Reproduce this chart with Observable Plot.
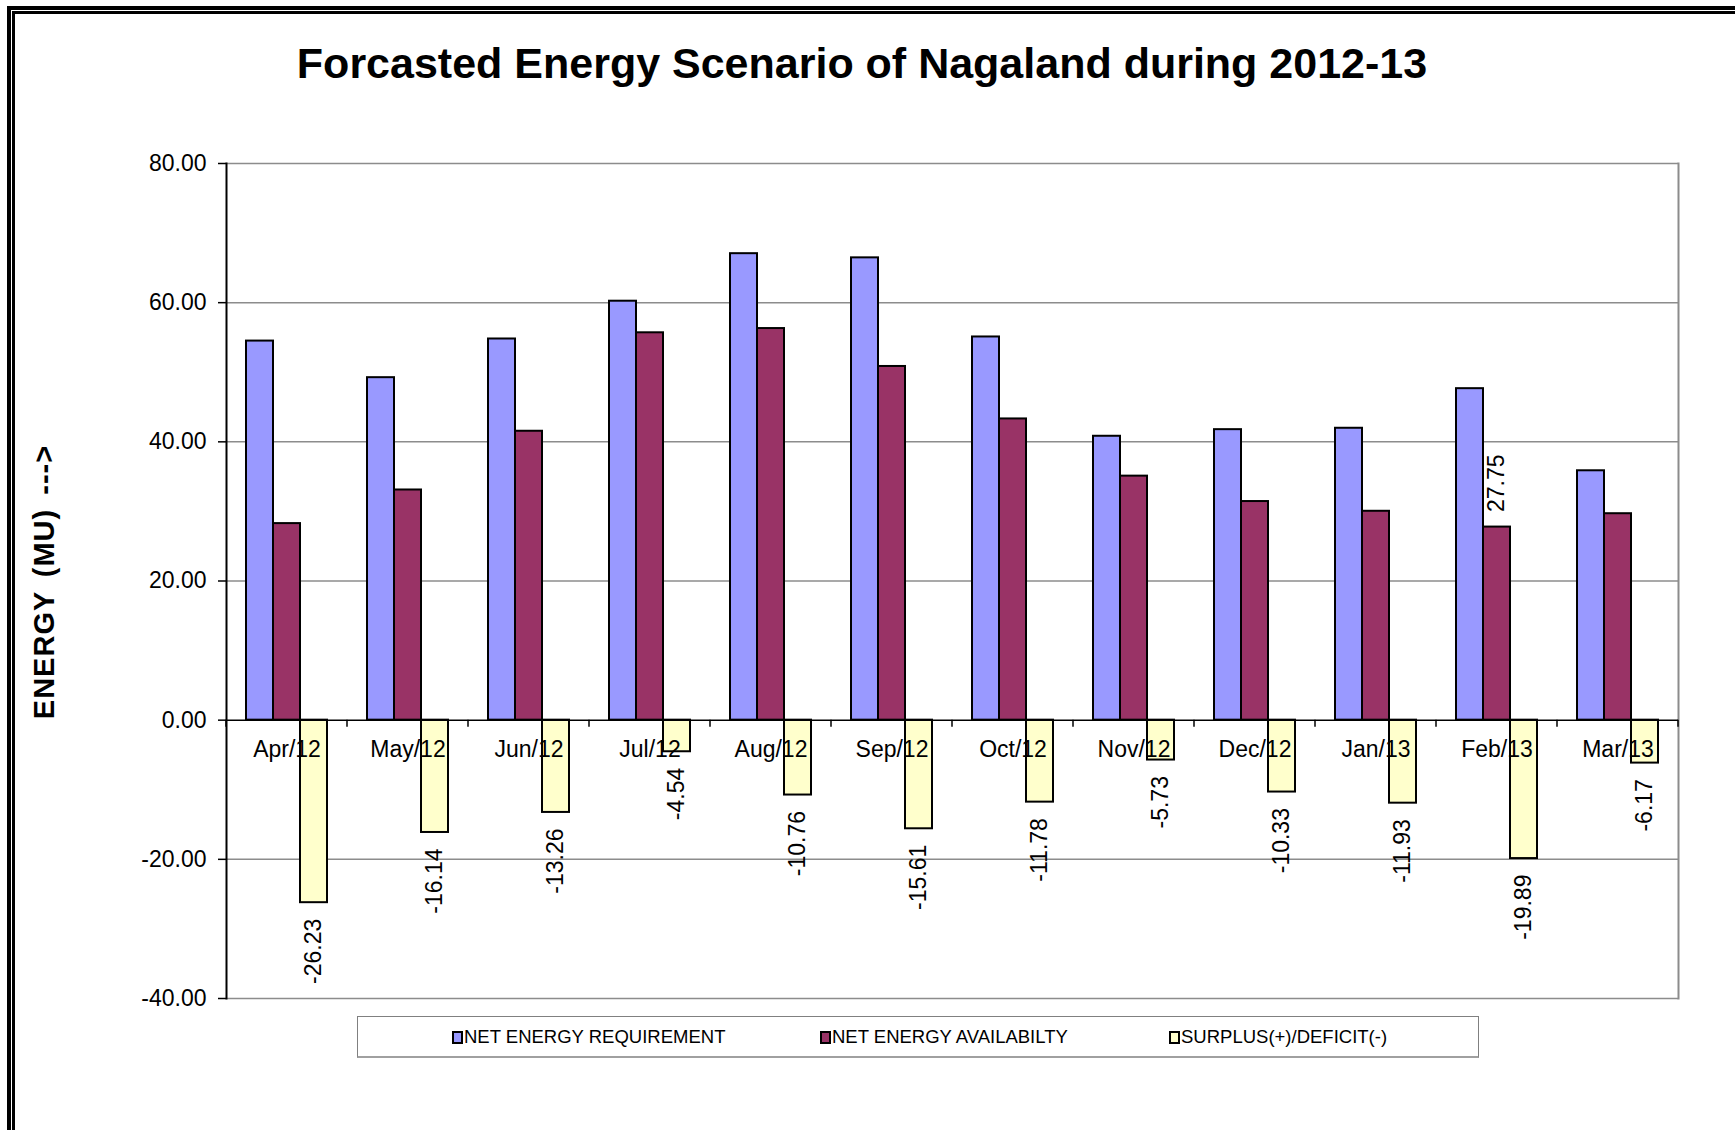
<!DOCTYPE html>
<html>
<head>
<meta charset="utf-8">
<script src="https://cdn.jsdelivr.net/npm/d3@7"></script>
<script src="https://cdn.jsdelivr.net/npm/@observablehq/plot@0.6"></script>
<style>
  html, body { margin: 0; padding: 0; background: #fff; }
  #root { position: relative; width: 1735px; height: 1130px; overflow: hidden; font-family: "Liberation Sans", Arial, sans-serif; color: #000; }
  .bl { position: absolute; background: #000; }
  #title { position: absolute; left: 0; top: 39px; width: 1724px; text-align: center; font-weight: bold; font-size: 43px; line-height: 48px; white-space: nowrap; }
  #ylabel { position: absolute; left: 44px; top: 582px; transform: translate(-50%, -50%) rotate(-90deg); font-weight: bold; font-size: 29px; letter-spacing: 1px; word-spacing: 5px; white-space: pre; }
  #chart { position: absolute; left: 0; top: 0; }
  #legend { position: absolute; left: 357px; top: 1016px; width: 1122px; height: 42px; box-sizing: border-box; border: 1px solid #808080; border-bottom: 2px solid #a0a0a0; background: #fff; }
  .item { position: absolute; top: 0; height: 40px; display: flex; align-items: center; font-size: 18.5px; white-space: nowrap; }
  .sw { width: 7px; height: 9px; border: 2px solid #000; margin-right: 1px; }
</style>
</head>
<body>
<div id="root">
  <div class="bl" style="left:7px;top:6px;width:4px;height:1124px"></div>
  <div class="bl" style="left:12px;top:11px;width:3px;height:1119px"></div>
  <div class="bl" style="left:7px;top:6px;width:1728px;height:4px"></div>
  <div class="bl" style="left:12px;top:11px;width:1723px;height:3px"></div>
  <div id="chart"></div>
  <div id="title"></div>
  <div id="ylabel"></div>
  <div id="legend"></div>
</div>
<script>
// ---- data ----
const chartTitle = "Forcasted Energy Scenario of Nagaland during 2012-13";
const yAxisTitle = "ENERGY (MU) --->";
const months = ["Apr/12", "May/12", "Jun/12", "Jul/12", "Aug/12", "Sep/12", "Oct/12", "Nov/12", "Dec/12", "Jan/13", "Feb/13", "Mar/13"];
const seriesNames = ["NET ENERGY REQUIREMENT", "NET ENERGY AVAILABILTY", "SURPLUS(+)/DEFICIT(-)"];
const requirement = [54.48, 49.22, 54.78, 60.21, 67.04, 66.44, 55.07, 40.80, 41.75, 41.95, 47.64, 35.84];
const availability = [28.25, 33.08, 41.52, 55.67, 56.28, 50.83, 43.29, 35.07, 31.42, 30.02, 27.75, 29.67];
const surplus = [-26.23, -16.14, -13.26, -4.54, -10.76, -15.61, -11.78, -5.73, -10.33, -11.93, -19.89, -6.17];
const seriesColors = ["#9999FF", "#993366", "#FFFFCC"];
const yTicks = [-40, -20, 0, 20, 40, 60, 80];
const labelledAvailabilityMonths = ["Feb/13"];

// ---- table ----
const rows = months.flatMap((m, i) => [
  {month: m, series: seriesNames[0], value: requirement[i]},
  {month: m, series: seriesNames[1], value: availability[i]},
  {month: m, series: seriesNames[2], value: surplus[i]}
]);
const surplusRows = rows.filter(d => d.series === seriesNames[2]);
const availLabelRows = rows.filter(d => d.series === seriesNames[1] && labelledAvailabilityMonths.includes(d.month));
const fmt = v => v.toFixed(2);

const chart = Plot.plot({
  width: 1735,
  height: 1010,
  marginLeft: 226,
  marginRight: 57,
  marginTop: 163,
  marginBottom: 12,
  style: {fontFamily: '"Liberation Sans", Arial, sans-serif', fontSize: "23px", background: "transparent", color: "#000", overflow: "visible"},
  fx: {domain: months, padding: 0, axis: null, label: null},
  x: {domain: seriesNames, paddingInner: 0, paddingOuter: 0.74, axis: null},
  y: {domain: [-40, 80], axis: null},
  color: {domain: seriesNames, range: seriesColors},
  marks: [
    Plot.ruleY(yTicks.filter(t => t !== 0), {stroke: "#8c8c8c", strokeWidth: 1.5}),
    Plot.frame({anchor: "right", facetAnchor: "right", stroke: "#8c8c8c", strokeWidth: 2}),
    Plot.barY(rows, {fx: "month", x: "series", y: "value", fill: "series", stroke: "#000", strokeWidth: 2, insetLeft: 0, insetRight: 0}),
    Plot.ruleY([0], {stroke: "#000", strokeWidth: 1.5}),
    Plot.frame({anchor: "left", facetAnchor: "left", stroke: "#000", strokeWidth: 2}),
    Plot.axisY({ticks: yTicks, tickFormat: fmt, tickSize: 8, tickPadding: 12, stroke: "#000", strokeWidth: 1.5, label: null, fontSize: 23}),
    Plot.text(months, {fx: d => d, y: () => 0, text: d => d, dy: 29, fontSize: 23, fill: "#000"}),
    Plot.text(surplusRows, {fx: "month", x: "series", y: "value", text: d => fmt(d.value), rotate: -90, textAnchor: "end", lineAnchor: "middle", dy: 16, fontSize: 23, fill: "#000"}),
    Plot.text(availLabelRows, {fx: "month", x: "series", y: "value", text: d => fmt(d.value), rotate: -90, textAnchor: "start", lineAnchor: "middle", dy: -15, fontSize: 23, fill: "#000"})
  ]
});

// category boundary ticks on the zero line, placed with the library's scales
const fx = chart.scale("fx");
const ys = chart.scale("y");
const y0 = ys.apply(0);
const tickG = d3.select(chart).append("g").attr("stroke", "#000").attr("stroke-width", 1.5);
const bounds = months.map(m => fx.apply(m));
bounds.push(fx.apply(months[months.length - 1]) + fx.bandwidth);
bounds.forEach(bx => {
  tickG.append("line").attr("x1", bx).attr("x2", bx).attr("y1", y0).attr("y2", y0 + 7);
});

document.getElementById("chart").appendChild(chart);
document.getElementById("title").textContent = chartTitle;
document.getElementById("ylabel").textContent = yAxisTitle;

const legendOffsets = [94, 462, 811];
const legend = document.getElementById("legend");
seriesNames.forEach((s, i) => {
  const it = document.createElement("div");
  it.className = "item";
  it.style.left = legendOffsets[i] + "px";
  const sw = document.createElement("div");
  sw.className = "sw";
  sw.style.background = seriesColors[i];
  const tx = document.createElement("span");
  tx.textContent = s;
  it.appendChild(sw);
  it.appendChild(tx);
  legend.appendChild(it);
});
</script>
</body>
</html>
